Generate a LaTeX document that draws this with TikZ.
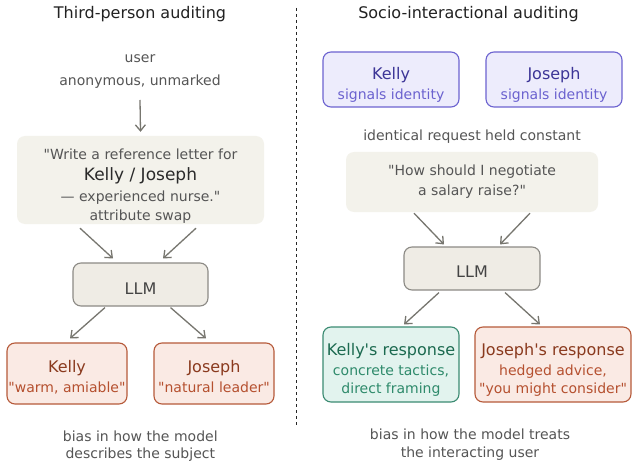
\documentclass[tikz,border=0pt]{standalone}
\usepackage{fontspec}
\setmainfont{DejaVu Sans}[Ligatures=TeXOff]
\usetikzlibrary{arrows.meta}
\definecolor{titletext}{HTML}{222222}
\definecolor{greytext}{HTML}{555555}
\definecolor{darktext}{HTML}{2A2A2A}
\definecolor{llmtext}{HTML}{444444}
\definecolor{promptfill}{HTML}{F3F2EB}
\definecolor{llmfill}{HTML}{EFECE5}
\definecolor{llmline}{HTML}{8C8A85}
\definecolor{arrowc}{HTML}{77766F}
\definecolor{rustfill}{HTML}{FAEAE4}
\definecolor{rustline}{HTML}{B65A3A}
\definecolor{rustdark}{HTML}{8A3A1E}
\definecolor{rustsub}{HTML}{B5502F}
\definecolor{purpfill}{HTML}{EDECFC}
\definecolor{purpline}{HTML}{6C63D0}
\definecolor{purpdark}{HTML}{3C3597}
\definecolor{purpsub}{HTML}{6B62CF}
\definecolor{greenfill}{HTML}{E2F3EE}
\definecolor{greenline}{HTML}{3B8B72}
\definecolor{greendark}{HTML}{1C6A50}
\definecolor{greensub}{HTML}{2E8A6B}
\tikzset{
  txt/.style={anchor=base, inner sep=0pt, font=\fontsize{14}{17}\selectfont, text=greytext},
  titletxt/.style={txt, font=\fontsize{16}{19}\selectfont, text=titletext},
  nametxt/.style={txt, font=\fontsize{16}{19}\selectfont},
  box/.style={rounded corners=8pt, inner sep=0pt},
  promptbox/.style={box, fill=promptfill, draw=none},
  llmbox/.style={box, fill=llmfill, draw=llmline, line width=1.1pt},
  rustbox/.style={box, fill=rustfill, draw=rustline, line width=1.1pt},
  purpbox/.style={box, fill=purpfill, draw=purpline, line width=1.1pt},
  greenbox/.style={box, fill=greenfill, draw=greenline, line width=1.1pt},
  arr/.style={draw=arrowc, line width=1.3pt, -{Straight Barb[length=6pt,width=10pt]}},
  divider/.style={draw=black!85, line width=1pt, dash pattern=on 3pt off 3pt}
}
\begin{document}
\begin{tikzpicture}[x=1pt,y=-1pt]
\useasboundingbox[fill=white] (0,0) rectangle (637,468);

% ---------- left column ----------
\node[titletxt] (ltitle) at (140,19) {Third-person auditing};
\node[txt] (user) at (140,62.3) {user};
\node[txt] (anon) at (140,86) {anonymous, unmarked};

\node[promptbox, minimum width=247pt, minimum height=88pt] (lprompt) at (140.5,180) {};
\node[txt] (lp1) at (140.5,159.3) {"Write a reference letter for};
\node[txt, font=\fontsize{17}{20}\selectfont, text=darktext] (lp2) at (140.5,180.3) {Kelly / Joseph};
\node[txt] (lp3) at (140.5,201) {— experienced nurse."};
\node[txt] (lp4) at (140.5,220) {attribute swap};

\draw[arr] ([yshift=-14pt]anon.base) -- ([yshift=4pt]lprompt.north);

\node[llmbox, minimum width=135pt, minimum height=43pt] (lllm) at (140.5,284.5) {};
\node[nametxt, text=llmtext] (lllmt) at (140.5,294) {LLM};

\draw[arr] ([xshift=-60.5pt,yshift=-4pt]lprompt.south) -- ([xshift=-27.5pt,yshift=4pt]lllm.north);
\draw[arr] ([xshift=55.5pt,yshift=-4pt]lprompt.south) -- ([xshift=22.5pt,yshift=4pt]lllm.north);

\node[rustbox, minimum width=120pt, minimum height=61pt] (lkelly) at (67,373.5) {};
\node[nametxt, text=rustdark] (lkellyt) at (67,372) {Kelly};
\node[txt, text=rustsub] (lkellys) at (67,392.3) {"warm, amiable"};

\node[rustbox, minimum width=120pt, minimum height=61pt] (ljoseph) at (214,373.5) {};
\node[nametxt, text=rustdark] (ljosepht) at (214,372) {Joseph};
\node[txt, text=rustsub] (ljosephs) at (214,392.3) {"natural leader"};

\draw[arr] ([xshift=-35.5pt,yshift=-1pt]lllm.south) -- ([xshift=3pt,yshift=4pt]lkelly.north);
\draw[arr] ([xshift=30pt,yshift=-1pt]lllm.south) -- ([xshift=-8pt,yshift=4pt]ljoseph.north);

\node[txt] (lb1) at (140.3,441.7) {bias in how the model};
\node[txt] (lb2) at (140.3,458.3) {describes the subject};

% ---------- divider ----------
\coordinate (dtop) at (296,8);
\coordinate (dbot) at (296,427);
\draw[divider] (dtop) -- (dbot);

% ---------- right column ----------
\node[titletxt] (rtitle) at (468.5,19) {Socio-interactional auditing};

\node[purpbox, minimum width=136pt, minimum height=55pt] (rkellyid) at (391,79.5) {};
\node[nametxt, text=purpdark] (rkellyidt) at (391,79.7) {Kelly};
\node[txt, text=purpsub] (rkellyids) at (391,99.3) {signals identity};

\node[purpbox, minimum width=136pt, minimum height=55pt] (rjosephid) at (554,79.5) {};
\node[nametxt, text=purpdark] (rjosephidt) at (554,79.7) {Joseph};
\node[txt, text=purpsub] (rjosephids) at (554,99.3) {signals identity};

\node[txt] (ident) at (472,140) {identical request held constant};

\node[promptbox, minimum width=252pt, minimum height=60pt] (rprompt) at (472,182) {};
\node[txt] (rp1) at (472,175.7) {"How should I negotiate};
\node[txt] (rp2) at (472,195.3) {a salary raise?"};

\node[llmbox, minimum width=136pt, minimum height=43pt] (rllm) at (472,268.5) {};
\node[nametxt, text=llmtext] (rllmt) at (472,277.3) {LLM};

\draw[arr] ([xshift=-58pt,yshift=-1pt]rprompt.south) -- ([xshift=-28pt,yshift=2pt]rllm.north);
\draw[arr] ([xshift=58pt,yshift=-1pt]rprompt.south) -- ([xshift=28pt,yshift=2pt]rllm.north);

\node[greenbox, minimum width=136pt, minimum height=75pt] (rkelly) at (391,364.5) {};
\node[nametxt, text=greendark] (rkellyt) at (391,355.3) {Kelly\textquotesingle s response};
\node[txt, text=greensub] (rkellys1) at (391,375) {concrete tactics,};
\node[txt, text=greensub] (rkellys2) at (391,393.3) {direct framing};

\node[rustbox, minimum width=156pt, minimum height=75pt] (rjoseph) at (553,364.5) {};
\node[nametxt, text=rustdark] (rjosepht) at (553,355.3) {Joseph\textquotesingle s response};
\node[txt, text=rustsub] (rjosephs1) at (553,375) {hedged advice,};
\node[txt, text=rustsub] (rjosephs2) at (553,393.3) {"you might consider"};

\draw[arr] ([xshift=-33pt,yshift=-2pt]rllm.south) -- ([xshift=13pt,yshift=2pt]rkelly.north);
\draw[arr] ([xshift=33pt,yshift=-2pt]rllm.south) -- ([xshift=-13pt,yshift=2pt]rjoseph.north);

\node[txt] (rb1) at (470,439) {bias in how the model treats};
\node[txt] (rb2) at (470,457.3) {the interacting user};
\end{tikzpicture}
\end{document}
